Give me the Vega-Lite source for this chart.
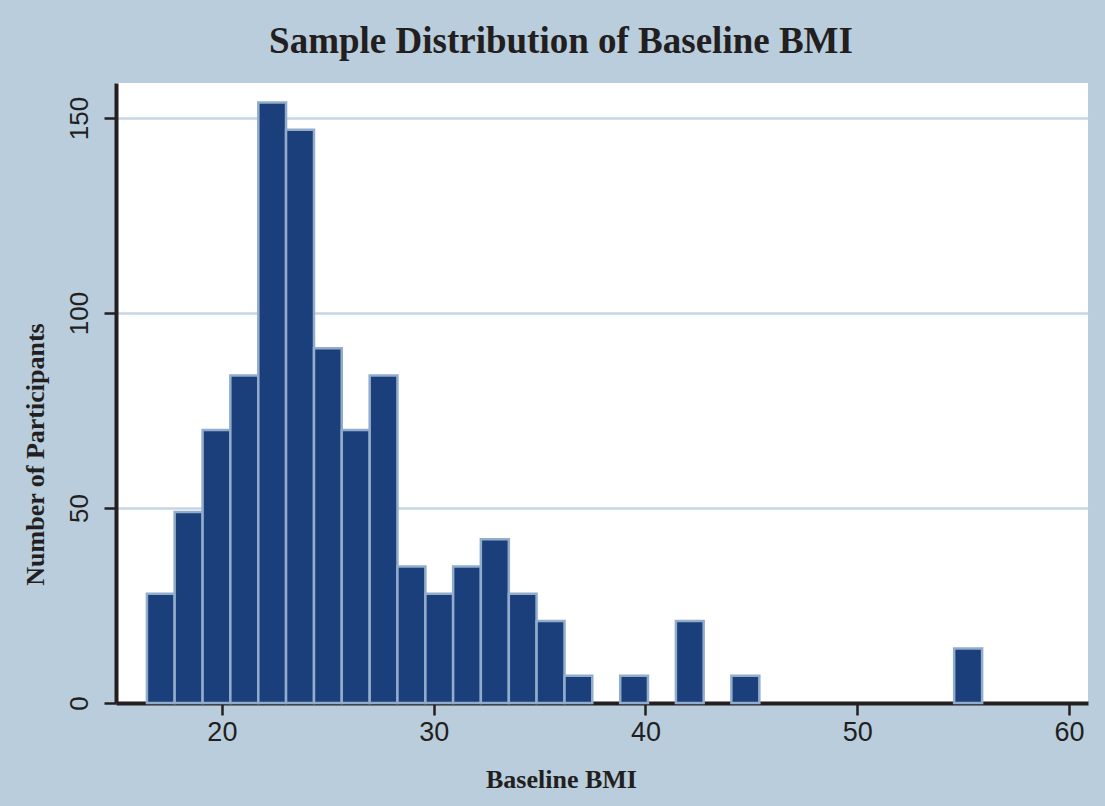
{
  "$schema": "https://vega.github.io/schema/vega-lite/v6.json",
  "width": 972,
  "height": 620,
  "autosize": {"type": "none"},
  "padding": {"left": 116, "top": 83, "right": 17, "bottom": 103},
  "background": "#B9CDDC",
  "view": {"fill": "#FFFFFF", "stroke": null},
  "title": {
    "text": "Sample Distribution of Baseline BMI",
    "font": "Liberation Serif",
    "fontSize": 37,
    "fontWeight": "bold",
    "color": "#231F20",
    "anchor": "middle",
    "frame": "group",
    "baseline": "alphabetic",
    "offset": -7,
    "dx": -41
  },
  "data": {
    "values": [
      {"bin_start": 16.46, "bin_end": 17.77, "count": 28},
      {"bin_start": 17.77, "bin_end": 19.09, "count": 49},
      {"bin_start": 19.09, "bin_end": 20.40, "count": 70},
      {"bin_start": 20.40, "bin_end": 21.72, "count": 84},
      {"bin_start": 21.72, "bin_end": 23.03, "count": 154},
      {"bin_start": 23.03, "bin_end": 24.35, "count": 147},
      {"bin_start": 24.35, "bin_end": 25.66, "count": 91},
      {"bin_start": 25.66, "bin_end": 26.98, "count": 70},
      {"bin_start": 26.98, "bin_end": 28.29, "count": 84},
      {"bin_start": 28.29, "bin_end": 29.61, "count": 35},
      {"bin_start": 29.61, "bin_end": 30.92, "count": 28},
      {"bin_start": 30.92, "bin_end": 32.23, "count": 35},
      {"bin_start": 32.23, "bin_end": 33.55, "count": 42},
      {"bin_start": 33.55, "bin_end": 34.86, "count": 28},
      {"bin_start": 34.86, "bin_end": 36.18, "count": 21},
      {"bin_start": 36.18, "bin_end": 37.49, "count": 7},
      {"bin_start": 38.81, "bin_end": 40.12, "count": 7},
      {"bin_start": 41.44, "bin_end": 42.75, "count": 21},
      {"bin_start": 44.06, "bin_end": 45.38, "count": 7},
      {"bin_start": 54.58, "bin_end": 55.90, "count": 14}
    ]
  },
  "mark": {
    "type": "bar",
    "fill": "#1A3F7A",
    "stroke": "#92ACCB",
    "strokeWidth": 2.5
  },
  "encoding": {
    "x": {
      "field": "bin_start",
      "type": "quantitative",
      "scale": {"domain": [15, 60.9], "nice": false, "zero": false},
      "axis": {
        "title": "Baseline BMI",
        "titleFont": "Liberation Serif",
        "titleFontSize": 26,
        "titleFontWeight": "bold",
        "titleColor": "#231F20",
        "titleAnchor": "start",
        "titleAlign": "center",
        "titleBaseline": "alphabetic",
        "titleX": 445,
        "titleY": 84,
        "values": [20, 30, 40, 50, 60],
        "labelFont": "Liberation Sans",
        "labelFontSize": 27,
        "labelColor": "#231F20",
        "labelPadding": 4,
        "tickSize": 12,
        "tickWidth": 2.5,
        "tickColor": "#231F20",
        "domainColor": "#231F20",
        "domainWidth": 4,
        "grid": false
      }
    },
    "x2": {"field": "bin_end"},
    "y": {
      "field": "count",
      "type": "quantitative",
      "scale": {"domain": [0, 159], "nice": false, "padding": 0},
      "axis": {
        "title": "Number of Participants",
        "titleFont": "Liberation Serif",
        "titleFontSize": 26,
        "titleFontWeight": "bold",
        "titleColor": "#231F20",
        "titleAnchor": "start",
        "titleAlign": "center",
        "titleBaseline": "alphabetic",
        "titleX": -73,
        "titleY": 371,
        "values": [0, 50, 100, 150],
        "labelFont": "Liberation Sans",
        "labelFontSize": 26,
        "labelColor": "#231F20",
        "labelAngle": -90,
        "labelAlign": "center",
        "labelBaseline": "alphabetic",
        "labelPadding": 17,
        "tickSize": 12,
        "tickWidth": 2.5,
        "tickColor": "#231F20",
        "domainColor": "#231F20",
        "domainWidth": 4,
        "grid": true,
        "gridColor": "#C6D5E2",
        "gridWidth": 2.5
      }
    },
    "y2": {"datum": 0}
  }
}
